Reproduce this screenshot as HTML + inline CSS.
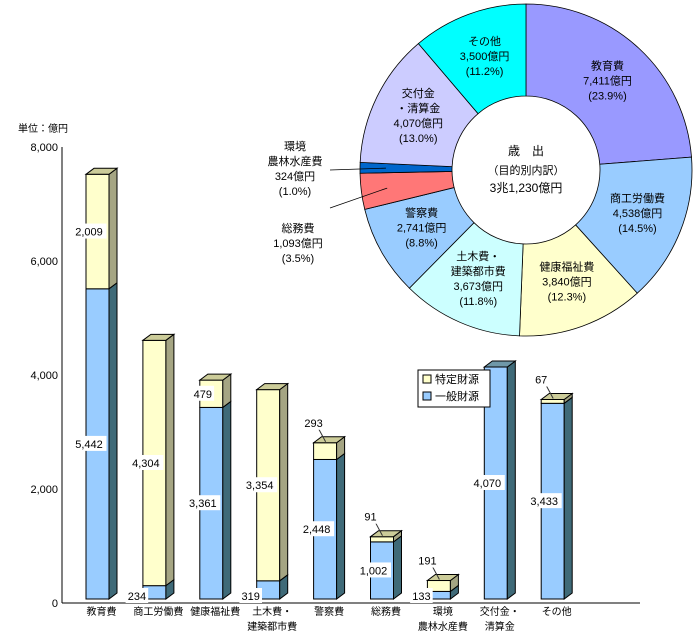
<!DOCTYPE html>
<html><head><meta charset="utf-8"><style>
body{margin:0;background:#fff;}
svg{display:block;font-family:"Liberation Sans","Noto Sans CJK JP",sans-serif;}
</style></head><body>
<svg id="c" width="700" height="640" viewBox="0 0 700 640"></svg>
<script>
const categories=["教育費","商工労働費","健康福祉費","土木費・|建築都市費","警察費","総務費","環境|農林水産費","交付金・|清算金","その他"];
const generalVals=[5442,234,3361,319,2448,1002,133,4070,3433];
const specificVals=[2009,4304,479,3354,293,91,191,0,67];
const yTicks=[0,2000,4000,6000,8000];
const pieNames=["教育費","商工労働費","健康福祉費","土木費・|建築都市費","警察費","総務費","環境|農林水産費","交付金|・清算金","その他"];
const pieVals=[7411,4538,3840,3673,2741,1093,324,4070,3500];
const piePct=["23.9%","14.5%","12.3%","11.8%","8.8%","3.5%","1.0%","13.0%","11.2%"];
const pieColors=["#9999ff","#99ccff","#ffffcc","#ccffff","#99ccff","#ff7777","#0066cc","#ccccff","#00ffff"];

const NS="http://www.w3.org/2000/svg",svg=document.getElementById('c');
function mk(t,a,p){const e=document.createElementNS(NS,t);for(const k in a)e.setAttribute(k,a[k]);(p||svg).appendChild(e);return e;}
function fmt(v){return v.toLocaleString('en-US');}
const y0=599,sc=0.057,x0=86,step=56.9,bw=23,dx=8,dy=6;
const yv=v=>y0-v*sc;
let ax=mk('line',{x1:62,y1:147,x2:62,y2:603,stroke:'#000'});

let bx=mk('line',{x1:62,y1:603,x2:640,y2:603,stroke:'#000'});

let ut=mk('text',{x:18,y:132,'font-size':10});ut.textContent='単位：億円';

yTicks.forEach(t=>{const y=603-t*0.057;const tx=mk('text',{x:58,y:y+4,'font-size':11,'text-anchor':'end'});tx.textContent=fmt(t);
});
function label(x,y,s){const w=s.length*6.2+4;const g=mk('g',{});

mk('rect',{x:x-w/2,y:y-8,width:w,height:15,fill:'#fff'},g);
const t=mk('text',{x:x,y:y+4,'font-size':11,'text-anchor':'middle'},g);t.textContent=s;}
categories.forEach((c,i)=>{
 const x=x0+i*step,g=generalVals[i],s=specificVals[i];
 const yb=y0,yg=yv(g),yt=yv(g+s);
 const grp=mk('g',{});
 mk('rect',{x:x,y:yg,width:bw,height:yb-yg,fill:'#99ccff',stroke:'#000'},grp);
 mk('polygon',{points:`${x+bw},${yg} ${x+bw+dx},${yg-dy} ${x+bw+dx},${yb-dy} ${x+bw},${yb}`,fill:'#3f6a78',stroke:'#000'},grp);
 if(s>0){
  mk('rect',{x:x,y:yt,width:bw,height:yg-yt,fill:'#ffffcc',stroke:'#000'},grp);
  mk('polygon',{points:`${x+bw},${yt} ${x+bw+dx},${yt-dy} ${x+bw+dx},${yg-dy} ${x+bw},${yg}`,fill:'#a5a583',stroke:'#000'},grp);
 }
 mk('polygon',{points:`${x},${yt} ${x+dx},${yt-dy} ${x+bw+dx},${yt-dy} ${x+bw},${yt}`,fill:s>0?'#cccc99':'#6f98a8',stroke:'#000'},grp);
 if(yb-yg>25) label(x+3,(yg+yb)/2,fmt(g)); else label(x-6,yb-3,fmt(g));
 if(s>0){ if(yg-yt>25) label(x+3,(yt+yg)/2,fmt(s));
  else{ mk('line',{x1:x+12,y1:yt-1,x2:x+5,y2:yt-14,stroke:'#333'}); label(x,yt-20,fmt(s));}}
 c.split('|').forEach((ln,k)=>{const t=mk('text',{x:x+bw/2+4,y:615+k*15,'font-size':10,'text-anchor':'middle'});t.textContent=ln;
 });
});
const lg=mk('g',{});
mk('rect',{x:418,y:370,width:72,height:37,fill:'#fff',stroke:'#000'},lg);
[['#ffffcc','特定財源',383],['#99ccff','一般財源',400]].forEach(d=>{
 const e=mk('g',{},lg);
 mk('rect',{x:423,y:d[2]-8,width:8,height:8,fill:d[0],stroke:'#000'},e);
 const t=mk('text',{x:435,y:d[2],'font-size':11},e);t.textContent=d[1];});
const cx=526,cy=170,R=166,r=74,tot=pieVals.reduce((a,b)=>a+b,0);
let a0=0;
pieVals.forEach((v,i)=>{
 const a1=a0+v/tot*2*Math.PI,P=(rad,a)=>[cx+rad*Math.sin(a),cy-rad*Math.cos(a)];
 const [x1,y1]=P(R,a0),[x2,y2]=P(R,a1),[x3,y3]=P(r,a1),[x4,y4]=P(r,a0),lf=(a1-a0)>Math.PI?1:0;
 const p=mk('path',{d:`M${x1},${y1}A${R},${R} 0 ${lf} 1 ${x2},${y2}L${x3},${y3}A${r},${r} 0 ${lf} 0 ${x4},${y4}Z`,fill:pieColors[i],stroke:'#000','stroke-width':0.8});
 
 const am=(a0+a1)/2;let lx,ly,lines=pieNames[i].split('|').concat([fmt(v)+'億円','('+piePct[i]+')']);
 if(v/tot<0.05){const [ex,ey]=P((R+r)/2+20,am);lx=i==5?298:295;ly=i==5?222:140;
  mk('line',{x1:ex,y1:ey,x2:330,y2:i==5?208:170,stroke:'#000','stroke-width':0.8});}
 else{[lx,ly]=P(120,am);ly-=lines.length*7.5;}
 lines.forEach((ln,k)=>{const t=mk('text',{x:lx,y:ly+k*15+10,'font-size':11,'text-anchor':'middle'});t.textContent=ln;
  });
 a0=a1;});
[['歳　出',155,12],['（目的別内訳）',174,11],['3兆1,230億円',192,12]].forEach(d=>{const t=mk('text',{x:cx,y:d[1],'font-size':d[2],'text-anchor':'middle'});t.textContent=d[0];
 });
</script>
</body></html>
